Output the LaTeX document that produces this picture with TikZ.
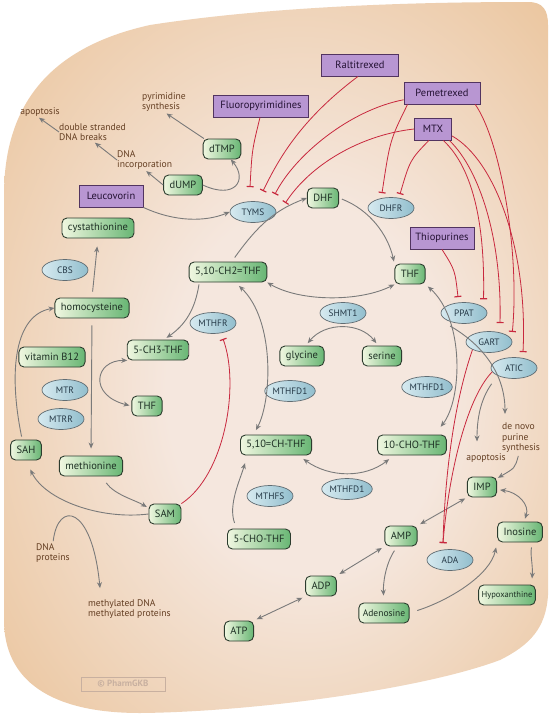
\documentclass[tikz,border=0pt]{standalone}
\usepackage{fontspec}
\setmainfont{PT Sans}
\usetikzlibrary{shapes.geometric, arrows.meta, positioning}
\definecolor{bgin}{RGB}{245,231,222}
\definecolor{bgout}{RGB}{232,188,140}
\definecolor{metl}{RGB}{240,247,224}
\definecolor{metr}{RGB}{104,182,116}
\definecolor{metline}{RGB}{44,60,46}
\definecolor{mettext}{RGB}{30,48,36}
\definecolor{enzl}{RGB}{214,234,240}
\definecolor{enzr}{RGB}{146,190,205}
\definecolor{enzline}{RGB}{96,108,114}
\definecolor{enztext}{RGB}{36,56,70}
\definecolor{drugfill}{RGB}{184,150,210}
\definecolor{drugline}{RGB}{82,52,96}
\definecolor{drugtext}{RGB}{36,18,52}
\definecolor{flowgray}{RGB}{122,122,122}
\definecolor{inhred}{RGB}{200,40,62}
\definecolor{lblbrown}{RGB}{100,62,34}
\definecolor{wmgray}{RGB}{200,176,160}
\pgfdeclareradialshading{bgshade}{\pgfpoint{4bp}{-3bp}}{color(0bp)=(bgin); color(13bp)=(bgin); color(42bp)=(bgout); color(50bp)=(bgout)}

\begin{document}
\begin{tikzpicture}[x=1pt, y=-1pt, >=Stealth,
    met/.style={draw=metline, line width=0.9pt, rounded corners=5pt, left color=metl, right color=metr, minimum height=20pt, inner xsep=6pt, inner ysep=2pt, font=\fontsize{10.5}{12}\selectfont, text=mettext},
    enz/.style={ellipse, draw=enzline, line width=0.7pt, left color=enzl, right color=enzr, minimum width=46pt, minimum height=21pt, inner sep=0.5pt, font=\fontsize{9.3}{10}\selectfont, text=enztext},
    drug/.style={draw=drugline, line width=0.9pt, fill=drugfill, minimum height=22pt, inner xsep=5pt, font=\fontsize{10.5}{12}\selectfont, text=drugtext},
    lbl/.style={text=lblbrown, font=\fontsize{9.6}{10.5}\selectfont, align=left, inner sep=0pt},
    flow/.style={draw=flowgray, line width=0.9pt, -{Stealth[length=6pt,width=5pt]}},
    both/.style={flow, {Stealth[length=6pt,width=5pt]}-{Stealth[length=6pt,width=5pt]}},
    inhib/.style={draw=inhred, line width=0.8pt, -{Bar[width=7pt,line width=1.2pt]}}]
    \fill[white] (0,0) rectangle (550,715);
    \shade[shading=bgshade] (4,195) .. controls (4,95) and (60,45) .. (150,25) .. controls (280,5) and (430,2) .. (528,2) .. controls (543,2) and (548,10) .. (548,25) -- (548,595) .. controls (546,628) and (530,645) .. (500,660) .. controls (420,690) and (250,712) .. (140,713) .. controls (50,713) and (4,680) .. (4,620) -- cycle;
    \useasboundingbox (0,0) rectangle (550,715);

    \node[drug, minimum width=77pt] (ralt) at (360,65) {Raltitrexed};
    \node[drug, minimum width=76pt] (peme) at (442,93) {Pemetrexed};
    \node[drug, minimum width=95pt] (fluo) at (261,106) {Fluoropyrimidines};
    \node[drug, minimum width=37pt] (mtx) at (433,129) {MTX};
    \node[drug, minimum width=64pt] (leuco) at (111,196) {Leucovorin};
    \node[drug, minimum width=64pt] (thio) at (442,238) {Thiopurines};

    \node[met] (dtmp) at (222,149) {dTMP};
    \node[met] (dump) at (183,185) {dUMP};
    \node[met] (cysta) at (98,228) {cystathionine};
    \node[met] (homocys) at (92,308) {homocysteine};
    \node[met] (vitb) at (52,357) {vitamin B12};
    \node[met] (mthf) at (158,350) {5-CH3-THF};
    \node[met] (ch2thf) at (228,272) {5,10-CH2=THF};
    \node[met] (dhf) at (323,198) {DHF};
    \node[met] (thfr) at (410,274) {THF};
    \node[met] (gly) at (302,356) {glycine};
    \node[met] (ser) at (382,356) {serine};
    \node[met] (thfl) at (147,406) {THF};
    \node[met] (sah) at (26,450) {SAH};
    \node[met] (met) at (91,466) {methionine};
    \node[met] (sam) at (165,514) {SAM};
    \node[met] (chthf) at (276,445) {5,10=CH-THF};
    \node[met] (chothf) at (412,445) {10-CHO-THF};
    \node[met] (fchothf) at (259,539) {5-CHO-THF};
    \node[met] (imp) at (482,487) {IMP};
    \node[met] (ino) at (520,532) {Inosine};
    \node[met] (amp) at (401,536) {AMP};
    \node[met] (adp) at (321,586) {ADP};
    \node[met] (atp) at (239,631) {ATP};
    \node[met, font=\fontsize{9.5}{11}\selectfont, inner xsep=4pt] (ado) at (384,613) {Adenosine};
    \node[met, font=\fontsize{8.5}{10}\selectfont, inner xsep=3pt] (hypo) at (507,595) {Hypoxanthine};

    \node[enz] (tyms) at (253,212) {TYMS};
    \node[enz] (dhfr) at (391,208) {DHFR};
    \node[enz] (cbs) at (65,270) {CBS};
    \node[enz] (mthfr) at (213,323) {MTHFR};
    \node[enz] (shmt) at (343,313) {SHMT1};
    \node[enz] (ppat) at (464,313) {PPAT};
    \node[enz] (gart) at (489,342) {GART};
    \node[enz] (atic) at (514,368) {ATIC};
    \node[enz] (mtr) at (65,390) {MTR};
    \node[enz] (mtrr) at (61,419) {MTRR};
    \node[enz] (mthfda) at (290,391) {MTHFD1};
    \node[enz] (mthfdb) at (427,387) {MTHFD1};
    \node[enz] (mthfdc) at (347,489) {MTHFD1};
    \node[enz] (mthfs) at (270,496) {MTHFS};
    \node[enz] (ada) at (450,560) {ADA};

    \node[lbl] (apopa) at (40,112) {apoptosis};
    \node[lbl, anchor=west] (dsb) at (59,132) {double stranded\\DNA breaks};
    \node[lbl, anchor=west] (dnainc) at (117,160) {DNA\\incorporation};
    \node[lbl, anchor=west] (pyrsyn) at (142,102) {pyrimidine\\synthesis};
    \node[lbl, anchor=west] (dnaprot) at (36,553) {DNA\\proteins};
    \node[lbl, anchor=west] (methyl) at (88,609) {methylated DNA\\methylated proteins};
    \node[lbl, anchor=west] (denovo) at (502,438) {de novo\\purine\\synthesis};
    \node[lbl] (apopb) at (486,458) {apoptosis};
    \node[draw=wmgray, line width=0.9pt, text=wmgray, font=\bfseries\fontsize{9}{10}\selectfont, minimum width=84pt, minimum height=14pt, inner sep=1pt] (wm) at (123,684) {© PharmGKB};

    \draw[flow, shorten >=3pt] (dtmp.150) -- (pyrsyn.south);
    \draw[flow, shorten >=2pt] (dump.west) -- (dnainc.south);
    \draw[flow, shorten >=3pt] (dnainc.west) -- (dsb.south);
    \draw[flow, shorten >=2pt] (dsb.west) -- (apopa.-120);
    \draw[flow] (dump.east) .. controls (235,200) and (248,180) .. (dtmp.-50);
    \draw[flow] (leuco.south east) .. controls (175,222) and (205,222) .. (tyms.west);
    \draw[flow, shorten <=5pt] (ch2thf.70) .. controls (258,225) and (275,210) .. (dhf.west);
    \draw[flow, shorten <=3pt, shorten >=2pt] (dhf.east) .. controls (370,210) and (388,235) .. (thfr.north west);
    \draw[both] (thfr.south west) .. controls (360,302) and (300,302) .. (ch2thf.south east);
    \draw[both, shorten <=3pt, shorten >=3pt] (gly.70) .. controls (325,322) and (360,322) .. (ser.110);
    \draw[flow, shorten <=2pt, shorten >=3pt] (ch2thf.200) .. controls (195,310) and (185,325) .. (mthf.60);
    \draw[flow, shorten <=6pt, shorten >=8pt] (homocys.north) -- (cysta.south);
    \draw[flow, shorten <=7pt, shorten >=7pt] (homocys.south) -- (met.north);
    \draw[both, shorten <=2pt, shorten >=2pt] (mthf.200) .. controls (95,360) and (88,395) .. (thfl.west);
    \draw[flow, shorten <=3pt] (sah.110) .. controls (8,370) and (15,315) .. (homocys.west);
    \draw[flow, shorten <=8pt, shorten >=2pt] (met.-45) .. controls (115,495) and (135,500) .. (sam.160);
    \draw[flow, shorten >=10pt] (sam.west) .. controls (100,520) and (45,500) .. (sah.south);
    \draw[flow, shorten <=2pt] (dnaprot.north) .. controls (58,500) and (92,505) .. ([xshift=12pt,yshift=11pt]methyl.north west);
    \draw[both, shorten <=5pt, shorten >=5pt] (ch2thf.-55) .. controls (275,320) and (272,400) .. (chthf.155);
    \draw[flow, shorten <=6pt, shorten >=8pt] (fchothf.155) .. controls (228,505) and (240,480) .. (chthf.200);
    \draw[both, shorten <=6pt, shorten >=6pt] (chthf.-25) .. controls (330,478) and (365,478) .. (chothf.-150);
    \draw[both, shorten <=3pt, shorten >=10pt] (thfr.south east) .. controls (465,320) and (462,400) .. (chothf.25) coordinate[pos=0.3] (branch);
    \draw[flow] (branch) .. controls (478,342) and (505,370) .. ([xshift=3pt,yshift=9pt]denovo.north west);
    \draw[flow, shorten <=10pt, shorten >=12pt] (atic.south west) .. controls (480,400) and (477,420) .. ([xshift=-9pt]apopb.north);
    \draw[flow, shorten <=3pt, shorten >=1pt] ([xshift=-2pt]denovo.south) .. controls (515,468) .. (imp.30);
    \draw[both, shorten <=2pt, shorten >=3pt] (imp.south west) -- (amp.north east);
    \draw[both, shorten <=3pt, shorten >=3pt] (imp.-10) .. controls (518,492) and (530,505) .. (ino.70);
    \draw[both, shorten <=3pt, shorten >=3pt] (amp.south west) -- (adp.north east);
    \draw[both, shorten <=3pt, shorten >=3pt] (adp.south west) -- (atp.north east);
    \draw[flow, shorten <=5pt, shorten >=7pt] (amp.-110) .. controls (385,565) and (383,585) .. (ado.north);
    \draw[flow, shorten <=8pt, shorten >=5pt] (ado.east) .. controls (450,600) and (490,575) .. (ino.south west);
    \draw[flow, shorten <=5pt, shorten >=6pt] (ino.-40) .. controls (530,555) and (533,565) .. (hypo.23);

    \draw[inhib] (fluo.-95) .. controls (252,150) .. ([xshift=-3pt,yshift=14pt]tyms.north);
    \draw[inhib] (ralt.-100) .. controls (300,120) and (278,160) .. ([xshift=10pt,yshift=10pt]tyms.north);
    \draw[inhib] (peme.190) .. controls (350,110) and (295,155) .. ([xshift=22pt,yshift=7pt]tyms.north);
    \draw[inhib] (mtx.west) .. controls (360,135) and (310,165) .. ([xshift=9pt,yshift=9pt]tyms.east);
    \draw[inhib] ([xshift=4pt]peme.south west) .. controls (390,140) .. ([xshift=-9pt,yshift=4pt]dhfr.north);
    \draw[inhib] (mtx.-110) .. controls (410,160) .. ([xshift=9pt,yshift=3pt]dhfr.north);
    \draw[inhib] (thio.south) .. controls (455,270) .. ([xshift=-6pt,yshift=5pt]ppat.north);
    \draw[inhib] (mtx.-48) .. controls (475,170) and (485,230) .. ([xshift=3pt,yshift=6pt]ppat.north east);
    \draw[inhib] (mtx.-35) .. controls (480,170) and (502,240) .. ([xshift=11pt,yshift=8pt]gart.north);
    \draw[inhib] (mtx.-20) .. controls (495,160) and (528,250) .. ([xshift=9pt,yshift=5pt]atic.north);
    \draw[inhib] (peme.-19) .. controls (500,140) and (520,250) .. ([yshift=10pt]gart.east);
    \draw[inhib] (gart.south west) .. controls (455,400) and (445,470) .. ([xshift=-7pt,yshift=6pt]ada.north);
    \draw[inhib] (atic.190) .. controls (465,400) and (448,480) .. ([xshift=-7pt,yshift=6pt]ada.north);
    \draw[inhib] (sam.north east) .. controls (225,475) and (240,385) .. ([xshift=10pt,yshift=-5pt]mthfr.south);
\end{tikzpicture}
\end{document}
